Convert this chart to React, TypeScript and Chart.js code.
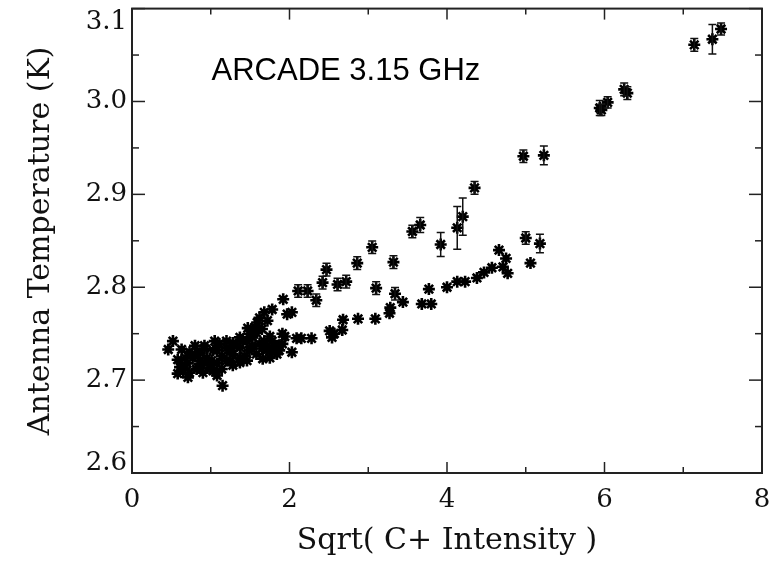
import React, { useEffect, useRef } from "react";
import { Chart, registerables } from "chart.js";

Chart.register(...registerables);

// ---- data ----
const clusterX = [0.52,0.46,0.63,0.80,0.58,0.67,0.71,0.65,0.61,0.70,0.77,0.86,0.86,0.95,1.03,1.08,1.03,1.08,1.15,0.99,1.08,1.11,1.20,1.20,1.20,1.28,1.28,1.28,1.37,1.37,1.46,1.47,1.49,1.58,1.58,1.59,1.62,1.62,1.66,1.68,1.71,1.72,1.75,1.78,1.78,1.84,1.91,1.92,1.94,1.97,2.03,2.03,2.09,0.73,0.92,1.37,1.46,1.53,1.68,1.78,1.87,0.82,0.90,
  0.73,0.84,0.92,1.01,1.14,1.24,1.33,1.41,1.49,1.56,1.43,1.52,1.65,1.72,1.81,1.87,1.75,1.65,1.14,1.24,1.37,0.92,0.80,0.58,0.68,1.05,1.91];
const clusterY = [2.742,2.733,2.733,2.728,2.707,2.716,2.703,2.711,2.714,2.718,2.724,2.721,2.729,2.724,2.732,2.732,2.710,2.705,2.694,2.713,2.718,2.739,2.742,2.735,2.721,2.740,2.728,2.716,2.746,2.724,2.721,2.756,2.732,2.751,2.728,2.762,2.739,2.767,2.723,2.773,2.732,2.764,2.724,2.776,2.732,2.728,2.739,2.787,2.747,2.771,2.773,2.730,2.745,2.730,2.737,2.735,2.742,2.746,2.742,2.742,2.737,2.712,2.708,
  2.708,2.714,2.718,2.721,2.726,2.732,2.737,2.742,2.750,2.757,2.726,2.737,2.734,2.737,2.737,2.732,2.747,2.755,2.712,2.721,2.719,2.734,2.737,2.722,2.724,2.742,2.750];

const lowerX = [2.15,2.28,2.51,2.57,2.67,2.54,2.68,2.87,3.09,3.27,3.28,3.44,3.68,3.80,3.77,4.00,4.13,4.23,4.38,4.47,4.57,4.66,4.75,4.71,4.77,5.06];
const lowerY = [2.745,2.745,2.753,2.750,2.754,2.746,2.765,2.766,2.766,2.772,2.778,2.784,2.782,2.782,2.798,2.800,2.806,2.806,2.810,2.816,2.821,2.840,2.831,2.822,2.815,2.826];

const upperX = [2.11,2.23,2.34,2.42,2.47,2.61,2.72,2.86,3.05,3.10,3.32,3.34,3.56,4.35,4.97,5.00,6.25,6.29,7.14];
const upperY = [2.796,2.796,2.786,2.805,2.819,2.803,2.806,2.826,2.843,2.799,2.827,2.793,2.860,2.907,2.941,2.853,3.013,3.009,3.061];

const errX = [3.66,3.92,4.13,4.20,5.18,5.23,5.94,5.96,6.04,7.37,7.48];
const errY = [2.867,2.846,2.864,2.876,2.847,2.942,2.993,2.991,2.999,3.067,3.078];
const errSize = [0.008,0.013,0.023,0.020,0.010,0.010,0.008,0.006,0.006,0.016,0.0065];

const xMajorTicks = [0, 2, 4, 6, 8];
const xMinorTicks = [1, 3, 5, 7];
const xTickLabels = ["0", "2", "4", "6", "8"];
const yMajorTicks = [2.6, 2.7, 2.8, 2.9, 3.0, 3.1];
const yMinorTicks = [2.65, 2.75, 2.85, 2.95, 3.05];
const yTickLabels = ["2.6", "2.7", "2.8", "2.9", "3.0", "3.1"];

const xTitle = "Sqrt( C+ Intensity )";
const yTitle = "Antenna Temperature (K)";
const annotation = "ARCADE 3.15 GHz";
const annotationAt = { x: 1.01, y: 3.023 };

const SERIF = '"DejaVu Serif", "Liberation Serif", serif';
const SANS = '"Liberation Sans", Arial, sans-serif';

const toPts = (xs: number[], ys: number[]) => xs.map((x, i) => ({ x, y: ys[i] }));

const errorBarPlugin = {
  id: "errorBars",
  afterDatasetsDraw(chart: any) {
    const { ctx, scales } = chart;
    const xs = scales.x, ys = scales.y;
    ctx.save();
    ctx.strokeStyle = "#111";
    ctx.lineWidth = 1.5;
    const draw = (x: number, y: number, e: number) => {
      const px = xs.getPixelForValue(x);
      const p1 = ys.getPixelForValue(y - e);
      const p2 = ys.getPixelForValue(y + e);
      ctx.beginPath();
      ctx.moveTo(px, p1); ctx.lineTo(px, p2);
      ctx.moveTo(px - 4, p1); ctx.lineTo(px + 4, p1);
      ctx.moveTo(px - 4, p2); ctx.lineTo(px + 4, p2);
      ctx.stroke();
    };
    errX.forEach((x, i) => draw(x, errY[i], errSize[i]));
    upperX.forEach((x, i) => draw(x, upperY[i], 0.0068));
    ctx.restore();
  },
};

const axesPlugin = {
  id: "idlAxes",
  afterDraw(chart: any) {
    const { ctx, chartArea, scales } = chart;
    const { left, right, top, bottom } = chartArea;
    const xs = scales.x, ys = scales.y;
    ctx.save();
    ctx.strokeStyle = "#222";
    ctx.lineWidth = 2;
    ctx.strokeRect(left, top, right - left, bottom - top);
    const seg = (x1: number, y1: number, x2: number, y2: number) => {
      ctx.beginPath(); ctx.moveTo(x1, y1); ctx.lineTo(x2, y2); ctx.stroke();
    };
    ctx.lineWidth = 1.5;
    xMajorTicks.forEach((v) => {
      const p = xs.getPixelForValue(v);
      seg(p, bottom, p, bottom - 11);
      seg(p, top, p, top + 11);
    });
    xMinorTicks.forEach((v) => {
      const p = xs.getPixelForValue(v);
      seg(p, bottom, p, bottom - 6);
      seg(p, top, p, top + 6);
    });
    yMajorTicks.forEach((v) => {
      const p = ys.getPixelForValue(v);
      seg(left, p, left + 13, p);
      seg(right, p, right - 13, p);
    });
    yMinorTicks.forEach((v) => {
      const p = ys.getPixelForValue(v);
      seg(left, p, left + 7, p);
      seg(right, p, right - 7, p);
    });

    ctx.fillStyle = "#111";
    ctx.font = `26px ${SERIF}`;
    ctx.textAlign = "right";
    ctx.textBaseline = "middle";
    yMajorTicks.forEach((v, i) => {
      let p = ys.getPixelForValue(v);
      p = Math.min(Math.max(p, top + 14), bottom - 10);
      ctx.fillText(yTickLabels[i], left - 5, p);
    });
    ctx.textAlign = "center";
    xMajorTicks.forEach((v, i) => {
      const p = xs.getPixelForValue(v);
      ctx.fillText(xTickLabels[i], p, bottom + 27);
    });

    ctx.font = `30px ${SERIF}`;
    ctx.fillText(xTitle, (left + right) / 2, bottom + 68);
    ctx.save();
    ctx.translate(41, (top + bottom) / 2);
    ctx.rotate(-Math.PI / 2);
    ctx.fillText(yTitle, 0, 0);
    ctx.restore();

    ctx.font = `31px ${SANS}`;
    ctx.textAlign = "left";
    ctx.textBaseline = "alphabetic";
    ctx.fillStyle = "#000";
    ctx.fillText(annotation, xs.getPixelForValue(annotationAt.x), ys.getPixelForValue(annotationAt.y));
    ctx.restore();
  },
};

export default function App() {
  const ref = useRef<HTMLCanvasElement | null>(null);
  useEffect(() => {
    if (!ref.current) return;
    const star = {
      pointStyle: "star" as const,
      pointRadius: 6,
      pointBorderWidth: 2.6,
      pointBorderColor: "#000",
      pointBackgroundColor: "#000",
      showLine: false,
    };
    const chart = new Chart(ref.current, {
      type: "scatter",
      data: {
        datasets: [
          { label: "cluster", data: toPts(clusterX, clusterY), ...star },
          { label: "lower", data: toPts(lowerX, lowerY), ...star },
          { label: "upper", data: toPts(upperX, upperY), ...star },
          { label: "errors", data: toPts(errX, errY), ...star },
        ],
      },
      options: {
        responsive: false,
        animation: false,
        layout: { padding: { left: 132, right: 10, top: 6, bottom: 88 } },
        plugins: { legend: { display: false }, tooltip: { enabled: false } },
        scales: {
          x: { type: "linear", min: 0, max: 8, display: false },
          y: { type: "linear", min: 2.6, max: 3.1, display: false },
        },
      },
      plugins: [errorBarPlugin, axesPlugin],
    });
    return () => chart.destroy();
  }, []);
  return (
    <div style={{ position: "fixed", left: 0, top: 0, width: 772, height: 561, background: "#fff" }}>
      <canvas ref={ref} width={772} height={561} style={{ display: "block" }} />
    </div>
  );
}
